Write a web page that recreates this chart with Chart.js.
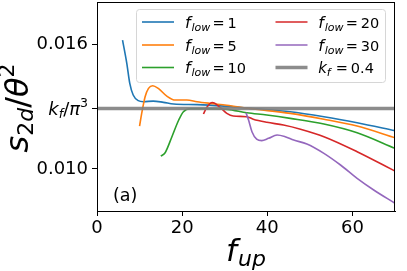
<!DOCTYPE html>
<html>
<head>
<meta charset="utf-8">
<script src="https://cdn.jsdelivr.net/npm/chart.js@4.4.1/dist/chart.umd.min.js"></script>
<style>
  html, body { margin: 0; padding: 0; background: #fff; }
  canvas { display: block; }
</style>
</head>
<body>
<canvas id="fupChart" width="407" height="271"></canvas>
<script>
// ---- data ----
var flowNames = ['1', '5', '10', '20', '30'];
var lineColors = ['#1f77b4', '#ff7f0e', '#2ca02c', '#d62728', '#9467bd'];

var x1 = [6, 7, 7.7, 8.5, 9.7, 10.9, 13.2, 15.6, 18, 23.5, 29.8, 36, 45.4, 53.3, 61.1, 70];
var y1 = [0.01619, 0.01507, 0.01411, 0.01355, 0.01328, 0.01323, 0.01326, 0.0132, 0.01312, 0.01309, 0.01302, 0.01291, 0.01275, 0.01251, 0.01222, 0.01184];

var x5 = [10, 10.5, 11.3, 12.1, 13.1, 14.4, 16.4, 18.4, 21.1, 23.5, 26.6, 30.5, 36, 45.4, 53.3, 61.1, 70];
var y5 = [0.01206, 0.01267, 0.01347, 0.01387, 0.0140, 0.01387, 0.0135, 0.01331, 0.01331, 0.01323, 0.01315, 0.01306, 0.0129, 0.01267, 0.01239, 0.01206, 0.0115];

var x10 = [15, 16, 17.6, 19.2, 20.3, 21.9, 25, 30.5, 35.2, 39.9, 45.4, 53.3, 61.1, 70];
var y10 = [0.01062, 0.01078, 0.01155, 0.01235, 0.01275, 0.01289, 0.01289, 0.01286, 0.0127, 0.01259, 0.01243, 0.01216, 0.01174, 0.01099];

var x20 = [25, 25.8, 27.1, 28.9, 30.5, 32, 35.2, 36.7, 39.9, 43.8, 47.8, 53.3, 61.1, 70];
var y20 = [0.01264, 0.01296, 0.01319, 0.01296, 0.01267, 0.01254, 0.01251, 0.01239, 0.01224, 0.01211, 0.01191, 0.01155, 0.01083, 0.0099];

var x30 = [35, 35.6, 36.4, 37.5, 38.7, 40.3, 42.3, 44.2, 46.2, 49.3, 53.3, 57.2, 61.1, 65, 70];
var y30 = [0.0127, 0.01235, 0.01179, 0.01143, 0.01136, 0.01147, 0.01163, 0.01155, 0.01139, 0.0112, 0.01075, 0.01019, 0.00955, 0.00899, 0.00835];

var kf = 0.4;
var kfLine = kf / Math.pow(Math.PI, 3);
var kfX = [0, 70];

var xTicks = [0, 20, 40, 60];
var yTicks = [0.010, kfLine, 0.016];
var yTickLabels = ['0.010', '', '0.016'];

var xsAll = [x1, x5, x10, x20, x30];
var ysAll = [y1, y5, y10, y20, y30];

function pts(xs, ys) {
    var out = [];
    for (var i = 0; i < xs.length; i++) out.push({ x: xs[i], y: ys[i] });
    return out;
}

var datasets = [{
    label: 'kf',
    data: pts(kfX, [kfLine, kfLine]),
    borderColor: 'rgba(128,128,128,0.9)',
    borderWidth: 3.5,
    pointRadius: 0,
    order: 0
}];
for (var i = 0; i < flowNames.length; i++) {
    datasets.push({
        label: 'flow ' + flowNames[i],
        data: pts(xsAll[i], ysAll[i]),
        borderColor: lineColors[i],
        borderWidth: 1.6,
        pointRadius: 0,
        cubicInterpolationMode: 'monotone',
        order: 5 - i
    });
}

var FONT = '"DejaVu Sans", sans-serif';

// draws pieces left to right at a baseline, returns width
function mathText(ctx, parts, x, y, draw) {
    var cx = x;
    parts.forEach(function (p) {
        ctx.font = (p.it ? 'italic ' : '') + p.size + 'px ' + FONT;
        if (p.at !== undefined) cx = x + p.at;
        if (draw) ctx.fillText(p.t, cx, y + (p.dy || 0));
        cx += ctx.measureText(p.t).width + (p.gap || 0);
    });
    return cx - x;
}

var decor = {
    id: 'decor',
    afterDraw: function (chart) {
        var ctx = chart.ctx;
        var a = chart.chartArea;
        ctx.save();
        ctx.strokeStyle = '#000';
        ctx.lineWidth = 1;
        ctx.strokeRect(a.left + 0.5, a.top + 0.5, a.right - a.left - 1, a.bottom - a.top);
        ctx.fillStyle = '#000';
        ctx.textBaseline = 'alphabetic';
        ctx.textAlign = 'left';

        // kf/pi^3 tick label
        var yk = chart.scales.y.getPixelForValue(kfLine);
        var kparts = [
            { t: 'k', it: true, size: 18 },
            { t: 'f', it: true, size: 12.5, dy: 3 },
            { t: '/', size: 18 },
            { t: 'π', it: true, size: 18 },
            { t: '3', size: 12.5, dy: -8 }
        ];
        var kw = mathText(ctx, kparts, 0, 0, false);
        mathText(ctx, kparts, 88 - kw, yk + 6, true);

        // (a)
        ctx.font = '17.5px ' + FONT;
        ctx.fillText('(a)', 113, 201);

        // x title
        var xparts = [
            { t: 'f', it: true, size: 31, gap: 1 },
            { t: 'up', it: true, size: 22, dy: 5 }
        ];
        var xw = mathText(ctx, xparts, 0, 0, false);
        mathText(ctx, xparts, 246 - xw / 2, 261, true);

        // y title (rotated)
        var yparts = [
            { t: 's', it: true, size: 32 },
            { t: '2', size: 22, dy: 5 },
            { t: 'd', it: true, size: 22, dy: 5 },
            { t: '/', size: 32 },
            { t: 'θ', it: true, size: 32 },
            { t: '2', size: 22, dy: -14 }
        ];
        var yw = mathText(ctx, yparts, 0, 0, false);
        ctx.save();
        ctx.translate(28, 108);
        ctx.rotate(-Math.PI / 2);
        mathText(ctx, yparts, -yw / 2, 0, true);
        ctx.restore();

        // legend
        ctx.beginPath();
        ctx.roundRect(136.5, 9.5, 249, 73, 3);
        ctx.fillStyle = 'rgba(255,255,255,0.85)';
        ctx.fill();
        ctx.strokeStyle = '#d6d6d6';
        ctx.lineWidth = 1;
        ctx.stroke();

        var rows = [22, 45, 67.5];
        var entries = [];
        for (var i = 0; i < flowNames.length; i++) {
            entries.push({ color: lineColors[i], width: 1.6, kind: 'flow', v: flowNames[i] });
        }
        entries.push({ color: 'rgba(128,128,128,0.9)', width: 3.7, kind: 'kf', v: String(kf) });
        entries.forEach(function (e, i) {
            var col = Math.floor(i / 3), r = i % 3;
            var sx = col === 0 ? 142 : 275.5;
            var tx = col === 0 ? 185 : 318.3;
            var y = rows[r];
            ctx.beginPath();
            ctx.moveTo(sx, y);
            ctx.lineTo(sx + 32, y);
            ctx.strokeStyle = e.color;
            ctx.lineWidth = e.width;
            ctx.stroke();
            ctx.fillStyle = '#000';
            var parts;
            if (e.kind === 'flow') {
                parts = [
                    { t: 'f', it: true, size: 16 },
                    { t: 'low', it: true, size: 11, dy: 3, at: 6.5 },
                    { t: '=', size: 14.5, at: 27.5 },
                    { t: e.v, size: 14.5, at: 42.5 }
                ];
            } else {
                parts = [
                    { t: 'k', it: true, size: 15 },
                    { t: 'f', it: true, size: 11, dy: 3, at: 8.5 },
                    { t: '=', size: 14.5, at: 17.5 },
                    { t: e.v, size: 14.5, at: 32.5 }
                ];
            }
            mathText(ctx, parts, tx, y + 5.5, true);
        });
        ctx.restore();
    }
};

var ctxEl = document.getElementById('fupChart').getContext('2d');
var chart = new Chart(ctxEl, {
    type: 'line',
    data: { datasets: datasets },
    plugins: [decor],
    options: {
        responsive: false,
        animation: false,
        devicePixelRatio: 1,
        layout: { padding: { left: 0, right: 12, top: 2, bottom: 0 } },
        plugins: { legend: { display: false }, tooltip: { enabled: false } },
        scales: {
            x: {
                type: 'linear',
                min: 0,
                max: 70,
                afterBuildTicks: function (s) { s.ticks = xTicks.map(function (v) { return { value: v }; }); },
                afterFit: function (s) { s.height = 60; s.paddingLeft = 0; s.paddingRight = 0; },
                grid: { drawOnChartArea: false, drawTicks: true, tickLength: 5, color: '#000' },
                border: { color: '#000', width: 1 },
                ticks: { color: '#000', font: { family: FONT, size: 18 }, padding: 2, maxRotation: 0 }
            },
            y: {
                type: 'linear',
                min: 0.00798,
                max: 0.01802,
                afterBuildTicks: function (s) { s.ticks = yTicks.map(function (v) { return { value: v }; }); },
                afterFit: function (s) { s.width = 97; s.paddingTop = 0; s.paddingBottom = 0; },
                grid: { drawOnChartArea: false, drawTicks: true, tickLength: 5, color: '#000' },
                border: { color: '#000', width: 1 },
                ticks: {
                    color: '#000',
                    font: { family: FONT, size: 18 },
                    padding: 4,
                    callback: function (v, idx) { return yTickLabels[idx]; }
                }
            }
        }
    }
});
</script>
</body>
</html>
